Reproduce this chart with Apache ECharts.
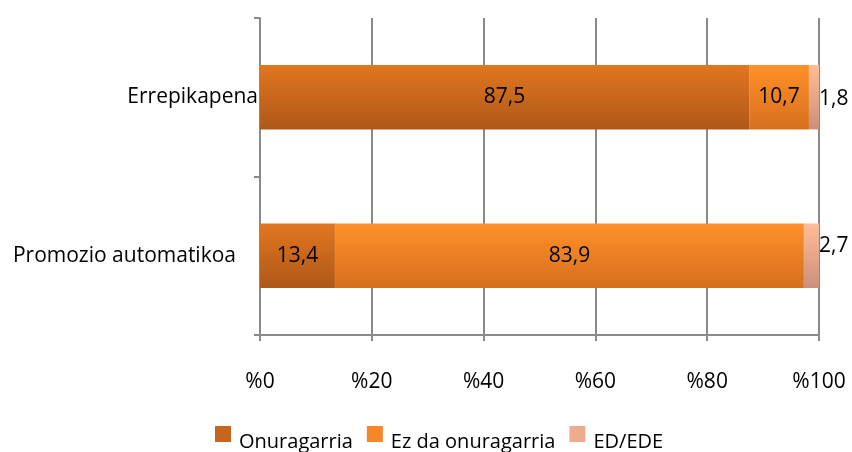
<!DOCTYPE html>
<html>
<head>
<meta charset="utf-8">
<script src="https://cdn.jsdelivr.net/npm/echarts@6/dist/echarts.min.js"></script>
<style>html,body{margin:0;padding:0;background:#fff}#c{width:852px;height:452px}</style>
</head>
<body>
<div id="c"></div>
<script>
var categories = ['Errepikapena', 'Promozio automatikoa'];
var seriesNames = ['Onuragarria', 'Ez da onuragarria', 'ED/EDE'];
var onuragarria = [87.5, 13.4];
var ezDaOnuragarria = [10.7, 83.9];
var edEde = [1.8, 2.7];
var xTicks = [0, 20, 40, 60, 80, 100];

var FONT = 'Open Sans';
var FS = 21;
function grad(a, b) {
  return new echarts.graphic.LinearGradient(0, 0, 0, 1, [{offset: 0, color: a}, {offset: 1, color: b}]);
}
var colors = [grad('#E27620', '#AE5818'), grad('#FF9029', '#D6701E'), grad('#FFBC98', '#CB907A')];
var legendColors = ['#C8651C', '#F5862A', '#EDAC8E'];
var smallLabelOffsets = [[0, 2], [0, -10]];

function fmt(p) { return String(p.value).replace('.', ','); }

var chart = echarts.init(document.getElementById('c'), null, {renderer: 'canvas'});
var dataSets = [onuragarria, ezDaOnuragarria, edEde];
var series = dataSets.map(function (d, i) {
  return {
    name: seriesNames[i],
    type: 'bar',
    stack: 'total',
    barWidth: '40.6%',
    data: d.map(function (v, j) {
      return i === 2 ? {value: v, label: {offset: smallLabelOffsets[j]}} : v;
    }),
    itemStyle: {color: colors[i]},
    label: {
      show: true,
      position: i === 2 ? 'right' : 'inside',
      distance: 0,
      formatter: fmt,
      color: '#000',
      fontFamily: FONT,
      fontSize: FS
    }
  };
});

var catData = categories.map(function (c, i) {
  return {value: c, textStyle: {padding: i === 1 ? [0, 22, 0, 0] : [0, 0, 0, 0]}};
});

chart.setOption({
  animation: false,
  backgroundColor: '#fff',
  grid: {left: 260, right: 33, top: 18, bottom: 117, containLabel: false},
  legend: {
    top: 421,
    left: 210,
    itemWidth: 16,
    itemHeight: 16,
    itemGap: 14,
    icon: 'rect',
    data: seriesNames.map(function (n, i) { return {name: n, itemStyle: {color: legendColors[i]}}; }),
    formatter: '{t|{name}}',
    textStyle: {
      fontFamily: FONT, fontSize: 20, color: '#000', padding: [0, 0, 0, 3],
      rich: {t: {fontFamily: FONT, fontSize: 20, color: '#000', padding: [16, 0, 0, 0]}}
    }
  },
  xAxis: {
    type: 'value',
    min: xTicks[0],
    max: xTicks[xTicks.length - 1],
    interval: 20,
    axisLine: {show: true, lineStyle: {color: '#8a8a8a', width: 2}},
    axisTick: {show: true, length: 6, lineStyle: {color: '#8a8a8a', width: 2}},
    splitLine: {show: true, lineStyle: {color: '#8a8a8a', width: 2}},
    axisLabel: {formatter: function (v) { return '%' + v; }, margin: 37, fontFamily: FONT, fontSize: FS, color: '#000'}
  },
  yAxis: {
    type: 'category',
    inverse: true,
    data: catData,
    axisLine: {show: true, lineStyle: {color: '#8a8a8a', width: 2}},
    axisTick: {show: true, length: 6, lineStyle: {color: '#8a8a8a', width: 2}},
    axisLabel: {margin: 2, fontFamily: FONT, fontSize: FS, color: '#000'}
  },
  series: series
});
</script>
</body>
</html>
